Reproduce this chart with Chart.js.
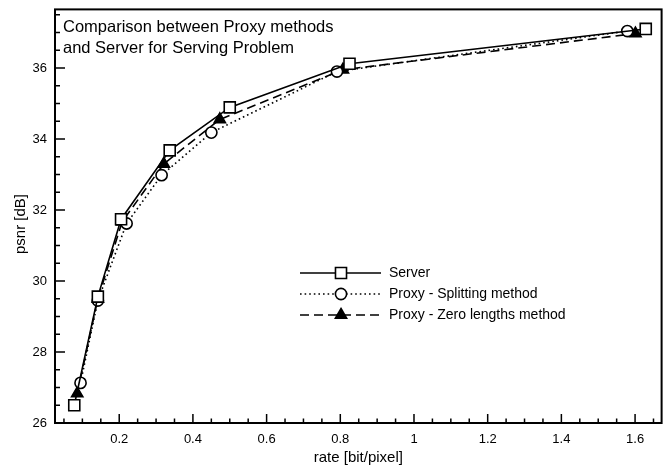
<!DOCTYPE html>
<html>
<head>
<meta charset="utf-8">
<script src="https://cdn.jsdelivr.net/npm/chart.js@4.4.1/dist/chart.umd.min.js"></script>
<style>
  html, body { margin: 0; padding: 0; background: #fff; }
  #wrap { width: 671px; height: 468px; }
</style>
</head>
<body>
<div id="wrap"><canvas id="chart"></canvas></div>
<script>
// ------------------------------------------------------------
// DATA
// ------------------------------------------------------------
const titleLines = ["Comparison between Proxy methods", "and Server for Serving Problem"];
const seriesNames = ["Server", "Proxy - Splitting method", "Proxy - Zero lengths method"];
const yTitle = "psnr [dB]";

const serverRate = [0.078, 0.142, 0.205, 0.337, 0.500, 0.825, 1.629];
const serverPsnr = [26.50, 29.56, 31.74, 33.68, 34.89, 36.12, 37.10];

const splitRate = [0.095, 0.142, 0.220, 0.315, 0.450, 0.791, 1.579];
const splitPsnr = [27.13, 29.45, 31.62, 32.98, 34.18, 35.90, 37.04];

const zeroRate = [0.086, 0.142, 0.208, 0.321, 0.473, 0.807, 1.601];
const zeroPsnr = [26.83, 29.50, 31.67, 33.30, 34.55, 35.95, 36.97];

const xTickValues = [0.2, 0.4, 0.6, 0.8, 1, 1.2, 1.4, 1.6];
const xTickLabels = ["0.2", "0.4", "0.6", "0.8", "1", "1.2", "1.4", "1.6"];
const yTickValues = [26, 28, 30, 32, 34, 36];
const yTickLabels = ["26", "28", "30", "32", "34", "36"];

const FONT = "'Liberation Sans', Arial, Helvetica, sans-serif";

// ------------------------------------------------------------
// HELFER
// ------------------------------------------------------------
function toPoints(xs, ys) {
  return xs.map((x, i) => ({ x, y: ys[i] }));
}

function makeDataset(label, xs, ys, style) {
  return {
    label,
    data: toPoints(xs, ys),
    borderColor: "#000",
    backgroundColor: style.fill,
    pointBackgroundColor: style.fill,
    pointBorderColor: "#000",
    pointBorderWidth: 1.6,
    pointStyle: style.point,
    pointRadius: style.radius,
    borderWidth: 1.6,
    borderDash: style.dash,
    tension: 0,
    fill: false
  };
}

function noPad(s) {
  s.paddingTop = 0;
  s.paddingBottom = 0;
  s.paddingLeft = 0;
  s.paddingRight = 0;
}

// frame, inward ticks, y title, text box and legend inside the plot
const framePlugin = {
  id: "frame",
  afterDraw(c) {
    const ctx = c.ctx;
    const a = c.chartArea;
    const xs = c.scales.x, ys = c.scales.y;
    ctx.save();
    ctx.strokeStyle = "#000";

    // inward ticks
    ctx.lineWidth = 1.5;
    ctx.beginPath();
    for (let k = 1; k <= 33; k++) {
      const v = k * 0.05;
      const px = xs.getPixelForValue(v);
      if (px < a.left + 1 || px > a.right - 1) continue;
      const major = k % 4 === 0;
      ctx.moveTo(px, a.bottom);
      ctx.lineTo(px, a.bottom - (major ? 9 : 4.5));
    }
    for (let k = 0; k <= 23; k++) {
      const v = 26 + k * 0.5;
      const py = ys.getPixelForValue(v);
      if (py < a.top + 1 || py > a.bottom + 1) continue;
      const major = k % 4 === 0;
      ctx.moveTo(a.left, py);
      ctx.lineTo(a.left + (major ? 10 : 5), py);
    }
    ctx.stroke();

    // frame
    ctx.lineWidth = 2;
    ctx.strokeRect(a.left, a.top, a.right - a.left, a.bottom - a.top);

    // y title (sits a bit below the axis centre, as in the original)
    ctx.fillStyle = "#000";
    ctx.save();
    ctx.translate(21, 224);
    ctx.rotate(-Math.PI / 2);
    ctx.font = "15px " + FONT;
    ctx.textAlign = "center";
    ctx.textBaseline = "middle";
    ctx.fillText(yTitle, 0, 0);
    ctx.restore();

    // text box
    ctx.font = "16.5px " + FONT;
    ctx.textAlign = "left";
    ctx.textBaseline = "alphabetic";
    ctx.fillText(titleLines[0], a.left + 8, a.top + 23);
    ctx.fillText(titleLines[1], a.left + 8, a.top + 44);

    // legend
    const x0 = 300, x1 = 381, xm = 341, xt = 389;
    c.data.datasets.forEach((ds, i) => {
      const y = 273 + i * 21;
      ctx.lineWidth = ds.borderWidth;
      ctx.setLineDash(ds.borderDash || []);
      ctx.beginPath();
      ctx.moveTo(x0, y);
      ctx.lineTo(x1, y);
      ctx.stroke();
      ctx.setLineDash([]);
      ctx.fillStyle = ds.pointBackgroundColor;
      ctx.lineWidth = ds.pointBorderWidth;
      Chart.helpers.drawPoint(ctx, {
        pointStyle: ds.pointStyle,
        radius: ds.pointRadius,
        borderWidth: ds.pointBorderWidth,
        rotation: 0
      }, xm, y);
      ctx.fillStyle = "#000";
      ctx.font = "14px " + FONT;
      ctx.textBaseline = "middle";
      ctx.fillText(ds.label, xt, y);
    });
    ctx.restore();
  }
};

// ------------------------------------------------------------
// CHART
// ------------------------------------------------------------
const datasets = [
  makeDataset(seriesNames[0], serverRate, serverPsnr, { point: "rect", radius: 7.8, fill: "#fff", dash: [] }),
  makeDataset(seriesNames[1], splitRate, splitPsnr, { point: "circle", radius: 5.6, fill: "#fff", dash: [1.6, 3] }),
  makeDataset(seriesNames[2], zeroRate, zeroPsnr, { point: "triangle", radius: 6.5, fill: "#000", dash: [9, 5] })
];

new Chart(document.getElementById("chart"), {
  type: "line",
  data: { datasets },
  plugins: [framePlugin],
  options: {
    responsive: true,
    maintainAspectRatio: false,
    animation: false,
    layout: { padding: { top: 8, right: 8, left: 0, bottom: 0 } },
    plugins: {
      legend: { display: false },
      tooltip: { enabled: false }
    },
    scales: {
      x: {
        type: "linear",
        min: 0.0257,
        max: 1.672,
        afterFit: s => { s.height = 45; noPad(s); },
        afterBuildTicks: s => { s.ticks = xTickValues.map(v => ({ value: v })); },
        grid: { display: false, drawTicks: false },
        border: { display: false },
        ticks: {
          padding: 9,
          color: "#000",
          font: { family: FONT, size: 13 },
          maxRotation: 0,
          autoSkip: false,
          callback: v => xTickLabels[xTickValues.indexOf(v)]
        },
        title: {
          display: true,
          text: "rate [bit/pixel]",
          color: "#000",
          font: { family: FONT, size: 15 },
          padding: { top: 0, bottom: 1 }
        }
      },
      y: {
        type: "linear",
        min: 26,
        max: 37.65,
        afterFit: s => { s.width = 55; noPad(s); },
        afterBuildTicks: s => { s.ticks = yTickValues.map(v => ({ value: v })); },
        grid: { display: false, drawTicks: false },
        border: { display: false },
        ticks: {
          padding: 8,
          color: "#000",
          font: { family: FONT, size: 13 },
          autoSkip: false,
          callback: v => yTickLabels[yTickValues.indexOf(v)]
        },
        title: { display: false }
      }
    }
  }
});
</script>
</body>
</html>
